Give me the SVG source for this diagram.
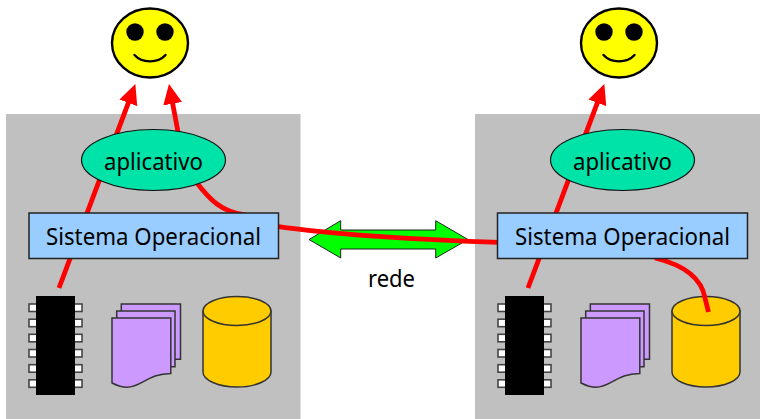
<svg xmlns="http://www.w3.org/2000/svg" width="760" height="419" viewBox="0 0 760 419">
<style>
.panel{fill:#c0c0c0}
.face{fill:#ffff00;stroke:#000;stroke-width:2.4}
.eye{fill:#000}
.smile{fill:none;stroke:#000;stroke-width:2.4;stroke-linecap:round}
.app{fill:#00e3a8;stroke:#111;stroke-width:1.2}
.os{fill:#99ccff;stroke:#222;stroke-width:1.5}
.pin{fill:#fff;stroke:#444;stroke-width:1.6}
.doc{fill:#cc99ff;stroke:#333;stroke-width:1.5}
.cyl{fill:#ffcc00;stroke:#333;stroke-width:1.5}
.red{fill:none;stroke:#ff0000;stroke-width:4.8}
.lbl{font-family:"Noto Sans","DejaVu Sans",sans-serif;fill:#000;text-anchor:middle;font-size:24px}
</style>
<defs>
<marker id="head" markerUnits="userSpaceOnUse" viewBox="0 0 20 20" refX="9" refY="10" markerWidth="20" markerHeight="20" orient="auto"><path d="M0,0.500 L20,10 L0,19.500 Z" fill="#ff0000"/></marker>
<g id="smiley">
<ellipse class="face" cx="150" cy="43" rx="38" ry="34.500"/>
<circle class="eye" cx="135" cy="32" r="8.700"/>
<circle class="eye" cx="165" cy="32" r="8.700"/>
<path class="smile" d="M134.500,55 C142,63.500 158,63.500 165.500,55"/>
</g>
<g id="chipShape">
<rect class="pin" x="29" y="304" width="8" height="7.500"/><rect class="pin" x="29" y="319.200" width="8" height="7.500"/><rect class="pin" x="29" y="334.300" width="8" height="7.500"/><rect class="pin" x="29" y="349.500" width="8" height="7.500"/><rect class="pin" x="29" y="364.700" width="8" height="7.500"/><rect class="pin" x="29" y="379.800" width="8" height="7.500"/>
<rect class="pin" x="74" y="304" width="8" height="7.500"/><rect class="pin" x="74" y="319.200" width="8" height="7.500"/><rect class="pin" x="74" y="334.300" width="8" height="7.500"/><rect class="pin" x="74" y="349.500" width="8" height="7.500"/><rect class="pin" x="74" y="364.700" width="8" height="7.500"/><rect class="pin" x="74" y="379.800" width="8" height="7.500"/>
<rect x="36" y="296" width="39" height="99" fill="#000"/>
</g>
<g id="docsShape">
<path class="doc" d="M121.300,318 V304 H180.500 V359.300 H165 Z"/>
<path class="doc" d="M116.700,325 V311 H175 V366.700 H160 Z"/>
<path class="doc" d="M112,318 H170.800 V373.400 C148,373.400 142,387 127,387.300 C121,387.300 116,385 112,383 Z"/>
</g>
<g id="cylShape">
<path class="cyl" d="M203,311 V372 C203,380 218,387 237,387 C256,387 271,380 271,372 V311 Z"/>
<ellipse class="cyl" cx="237" cy="311" rx="34" ry="14.500"/>
</g>
</defs>
<g id="panel-left"><rect class="panel" x="6" y="114" width="294.500" height="305"/></g>
<g id="panel-right"><rect class="panel" x="475" y="114" width="285" height="305"/></g>
<g id="rede"><path d="M309,239.500 L340.700,220.700 V230 H435.700 V220.700 L468,239.500 L435.700,258 V249 H340.700 V258 Z" fill="#00ff00" stroke="#222" stroke-width="1"/>
<text class="lbl" x="391.500" y="287" textLength="47" lengthAdjust="spacingAndGlyphs">rede</text></g>
<g id="user-left"><use href="#smiley"/></g>
<g id="user-right"><use href="#smiley" x="469"/></g>
<g id="chip-left"><use href="#chipShape"/></g>
<g id="chip-right"><use href="#chipShape" x="469"/></g>
<g id="docs-left"><use href="#docsShape"/></g>
<g id="docs-right"><use href="#docsShape" x="469"/></g>
<g id="disk-left"><use href="#cylShape"/></g>
<g id="disk-right"><use href="#cylShape" x="469"/></g>
<g id="connectors">
<path class="red" d="M59,288 L131.500,94.400" marker-end="url(#head)"/>
<path class="red" d="M178,132 L171,94.800" marker-end="url(#head)"/>
<path class="red" d="M528,288 L600.500,94.400" marker-end="url(#head)"/>
<path class="red" d="M197,183 C210,200 222,212 245,215 L275,226 C330,234 420,240 500,242.300"/>
<path class="red" d="M655,258 C688,266 702,281 705,298 L708.500,312"/>
</g>
<g id="app-left"><ellipse class="app" cx="153.500" cy="160" rx="72" ry="30.500"/><text class="lbl" x="153.500" y="170" textLength="99" lengthAdjust="spacingAndGlyphs">aplicativo</text></g>
<g id="app-right"><ellipse class="app" cx="622.500" cy="160" rx="72" ry="30.500"/><text class="lbl" x="622.500" y="170" textLength="99" lengthAdjust="spacingAndGlyphs">aplicativo</text></g>
<g id="so-left"><rect class="os" x="29" y="213" width="249.500" height="45.500"/><text class="lbl" x="153.500" y="245" textLength="215" lengthAdjust="spacingAndGlyphs">Sistema Operacional</text></g>
<g id="so-right"><rect class="os" x="497.500" y="213" width="250" height="45.500"/><text class="lbl" x="622.500" y="245" textLength="215" lengthAdjust="spacingAndGlyphs">Sistema Operacional</text></g>
</svg>
